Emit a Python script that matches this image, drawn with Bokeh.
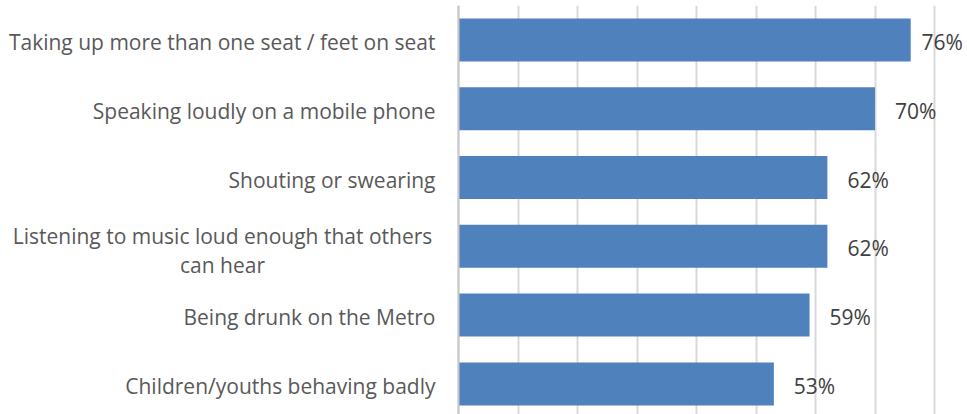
import numpy as np
from bokeh.plotting import figure
from bokeh.models import ColumnDataSource, FixedTicker, Range1d, Span
from bokeh.core.properties import value
from bokeh.embed import file_html
from bokeh.resources import INLINE

categories = [
    "Taking up more than one seat / feet on seat",
    "Speaking loudly on a mobile phone",
    "Shouting or swearing",
    "Listening to music loud enough that others\ncan hear",
    "Being drunk on the Metro",
    "Children/youths behaving badly",
]
values = [76, 70, 62, 62, 59, 53]
value_labels = ["76%", "70%", "62%", "62%", "59%", "53%"]
grid_ticks = [0, 10, 20, 30, 40, 50, 60, 70, 80]

W, H = 967, 414
top_border = 5
px_per_unit = 5.95      # pixels per percent
x0_px = 458             # pixel where 0% sits
band_px = 68.8          # pixels per category band
FONT = "Open Sans"
FS = "21px"

n = len(categories)
y_pos = np.array([n - i - 0.5 for i in range(n)])
vals = np.array(values, dtype=float)

x_start = -x0_px / px_per_unit
x_end = (W - x0_px) / px_per_unit
y_end = n
y_start = n - (H - top_border) / band_px

p = figure(width=W, height=H, output_backend="svg", toolbar_location=None,
           x_range=Range1d(x_start, x_end), y_range=Range1d(y_start, y_end),
           min_border_left=0, min_border_right=0, min_border_top=top_border,
           min_border_bottom=0)
p.xaxis.visible = False
p.yaxis.visible = False
p.ygrid.visible = False
p.outline_line_color = None
p.xgrid.ticker = FixedTicker(ticks=grid_ticks)
p.xgrid.grid_line_color = "#D9D9D9"
p.xgrid.grid_line_width = 2
p.add_layout(Span(location=0, dimension="height", line_color="#C8C8C8", line_width=2))

bar_src = ColumnDataSource(dict(y=y_pos, right=vals))
p.hbar(y="y", left=0, right="right", height=0.625, source=bar_src,
       fill_color="#4F81BD", line_color=None)

# data labels
label_x = np.minimum(vals + 20 / px_per_unit, (921 - x0_px) / px_per_unit)
lab_src = ColumnDataSource(dict(x=label_x, y=y_pos, t=value_labels))
p.text(x="x", y="y", text="t", source=lab_src, text_align="left",
       text_baseline="middle", text_font=value(FONT), text_font_size=FS,
       text_color="#404040", y_offset=2)

# category labels
right_x = (435 - x0_px) / px_per_unit
cx, cy, ct = [], [], []
for c, y in zip(categories, y_pos):
    if "\n" in c:
        center_x = (222 - x0_px) / px_per_unit
        p.text(x=[center_x], y=[y], text=[c], text_align="center",
               text_baseline="middle", text_font=value(FONT),
               text_font_size=FS, text_color="#595959",
               text_line_height=1.05, y_offset=4)
    else:
        cx.append(right_x); cy.append(y); ct.append(c)
cat_src = ColumnDataSource(dict(x=cx, y=cy, t=ct))
p.text(x="x", y="y", text="t", source=cat_src, text_align="right",
       text_baseline="middle", text_font=value(FONT), text_font_size=FS,
       text_color="#595959", y_offset=2)

open("out.html", "w").write(file_html(p, INLINE))
